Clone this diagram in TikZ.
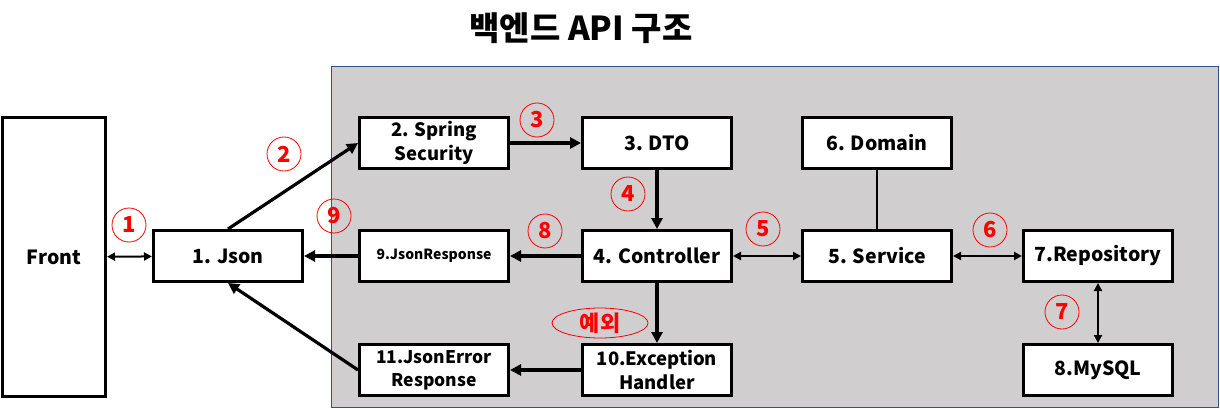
\documentclass[tikz,border=0pt]{standalone}
\usepackage{fontspec}
\setmainfont{Noto Sans CJK KR}
\usetikzlibrary{arrows.meta,shapes.geometric}
\definecolor{panelgray}{RGB}{208,206,207}
\definecolor{panelblue}{RGB}{47,82,143}
\tikzset{
  box/.style={draw, line width=3pt, fill=white, minimum width=149pt, minimum height=51pt,
    inner sep=0pt, align=center, font=\fontsize{19.5}{23}\selectfont\bfseries},
  num/.style={circle, draw=red, line width=0.8pt, minimum size=34pt, inner sep=0pt,
    text=red, font=\fontsize{22}{24}\selectfont\bfseries},
  flow/.style={line width=3.2pt, -{Triangle[length=11pt,width=11pt]}},
  both/.style={line width=2pt, {Triangle[length=8pt,width=8pt]}-{Triangle[length=8pt,width=8pt]}},
}
\begin{document}
\begin{tikzpicture}[x=1pt,y=-1pt]
  \useasboundingbox (0,0) rectangle (1220,409);
  \node[font=\fontsize{33}{36}\selectfont\bfseries] (title) at (581,28) {백엔드 API 구조};
  \draw[panelblue, fill=panelgray, line width=0.8pt] (331,66) rectangle (1218,407);

  \node[box, minimum width=103pt, minimum height=279pt] (front) at (54,257) {Front};
  \node[box] (json) at (228,256) {1. Json};
  \node[box, font=\fontsize{18.5}{24}\selectfont\bfseries] (security) at (434,143) {2. Spring\\Security};
  \node[box] (dto) at (657,143) {3. DTO};
  \node[box] (domain) at (877,143) {6. Domain};
  \node[box, font=\fontsize{14}{16}\selectfont\bfseries] (jsonresp) at (434,256) {9.JsonResponse};
  \node[box] (controller) at (657,256) {4. Controller};
  \node[box] (service) at (877,256) {5. Service};
  \node[box] (repository) at (1098,256) {7.Repository};
  \node[box, font=\fontsize{17.5}{23}\selectfont\bfseries] (errresp) at (434,370) {11.JsonError\\Response};
  \node[box, font=\fontsize{18.5}{24}\selectfont\bfseries] (handler) at (657,370) {10.Exception\\Handler};
  \node[box] (mysql) at (1098,370) {8.MySQL};

  \node[num] (n1) at (129,225) {1};
  \node[num] (n2) at (284,154) {2};
  \node[num] (n3) at (537,120) {3};
  \node[num] (n4) at (628,194) {4};
  \node[num] (n5) at (763,229) {5};
  \node[num] (n6) at (990,230) {6};
  \node[num] (n7) at (1062,312) {7};
  \node[num] (n8) at (545,231) {8};
  \node[num] (n9) at (334,216) {9};
  \node[num, ellipse, minimum width=96pt, minimum height=30pt] (err) at (600,323) {예외};

  \begin{scope}
    \draw[both] (front) -- (json);
    \draw[flow] (json.north) -- (security.west);
    \draw[flow] (security) -- (dto);
    \draw[flow] (dto) -- (controller);
    \draw[both] (controller) -- (service);
    \draw[line width=2.5pt] (domain) -- (service);
    \draw[both] (service) -- (repository);
    \draw[both] (repository) -- (mysql);
    \draw[flow] (controller) -- (jsonresp);
    \draw[flow] (jsonresp) -- (json);
    \draw[flow] (controller) -- (handler);
    \draw[flow] (handler) -- (errresp);
    \draw[flow] (errresp.west) -- (json.south);
  \end{scope}
\end{tikzpicture}
\end{document}
